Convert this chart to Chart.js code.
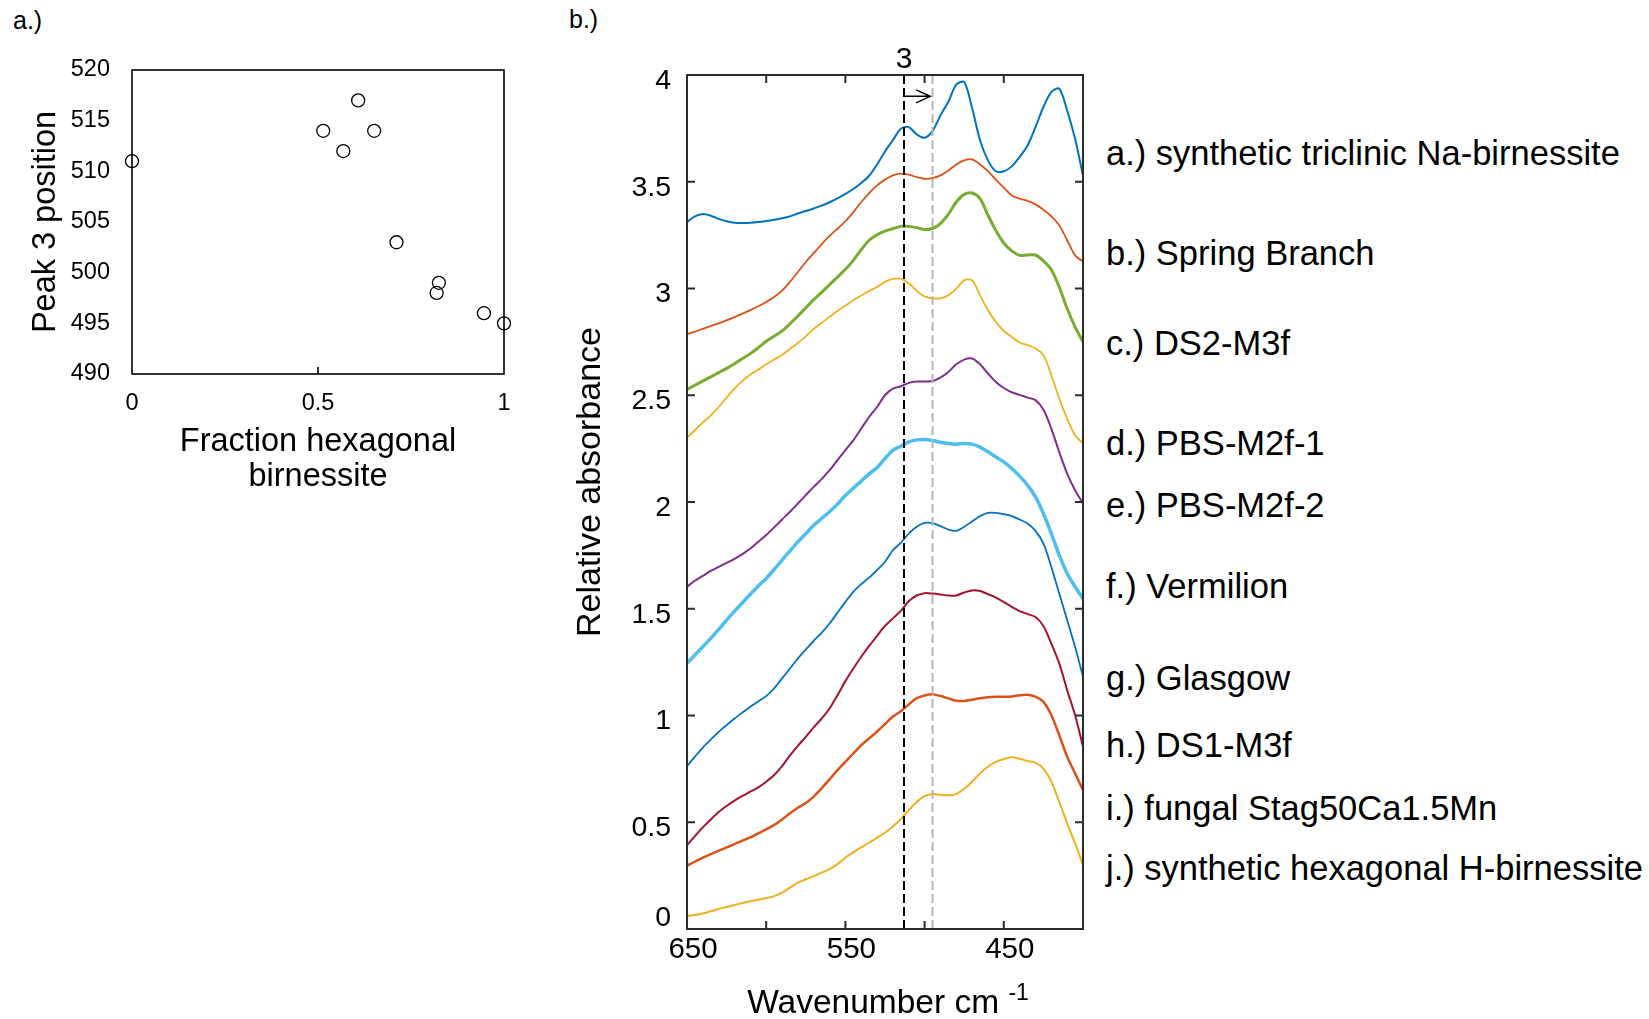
<!DOCTYPE html>
<html>
<head>
<meta charset="utf-8">
<script src="https://cdn.jsdelivr.net/npm/chart.js@4.4.1/dist/chart.umd.min.js"></script>
<style>
html, body { margin:0; padding:0; background:#fff; width:1649px; height:1019px; overflow:hidden; }
body { position:relative; font-family:"Liberation Sans", Arial, sans-serif; color:#000; }
canvas { position:absolute; }
#chartA { left:0; top:0; }
#chartB { left:540px; top:0; }
.panel { position:absolute; font-size:25px; line-height:25px; }
.lbl { position:absolute; left:1106px; font-size:34.5px; line-height:34.5px; white-space:nowrap; }
</style>
</head>
<body>
<div class="panel" style="left:13px; top:8px">a.)</div>
<div class="panel" style="left:569px; top:7px">b.)</div>
<canvas id="chartA" width="560" height="500"></canvas>
<canvas id="chartB" width="560" height="1019"></canvas>
<div id="labels"></div>
<script>
// panel a: peak 3 position vs fraction of hexagonal birnessite
var fractionHex = [0, 0.514, 0.568, 0.608, 0.651, 0.711, 0.825, 0.819, 0.946, 1.0];
var peak3Pos = [511, 514, 512, 517, 514, 503, 499, 498, 496, 495];

// panel b: FTIR spectra, offset for clarity
var wavenumber = [650,645,640,635,630,625,620,615,610,605,600,595,590,585,580,575,570,565,560,555,
  550,545,540,535,530,525,520,515,510,505,500,495,490,485,480,475,470,465,460,455,
  450,445,440,435,430,425,420,415,410,405,400];

var triclinicNa = [3.311,3.338,3.349,3.341,3.326,3.315,3.308,3.307,3.308,3.311,3.316,3.322,3.329,3.338,3.351,3.363,3.375,3.388,3.404,3.422,
  3.443,3.466,3.494,3.528,3.581,3.642,3.695,3.748,3.756,3.722,3.706,3.737,3.811,3.875,3.955,3.967,3.845,3.694,3.600,3.549,
  3.549,3.572,3.616,3.670,3.756,3.850,3.920,3.936,3.834,3.701,3.529];
var springBranch = [2.786,2.798,2.811,2.824,2.837,2.851,2.866,2.882,2.899,2.917,2.937,2.960,2.990,3.031,3.077,3.124,3.166,3.207,3.246,3.280,
  3.315,3.358,3.405,3.447,3.483,3.510,3.530,3.538,3.533,3.522,3.514,3.517,3.530,3.553,3.581,3.600,3.605,3.581,3.550,3.510,
  3.472,3.436,3.421,3.410,3.394,3.369,3.338,3.296,3.226,3.155,3.127];
var ds2M3f = [2.527,2.547,2.567,2.586,2.606,2.626,2.648,2.672,2.695,2.723,2.753,2.776,2.801,2.835,2.871,2.910,2.948,2.982,3.018,3.054,
  3.090,3.132,3.182,3.226,3.252,3.269,3.280,3.291,3.291,3.285,3.276,3.281,3.304,3.348,3.405,3.441,3.447,3.421,3.343,3.272,
  3.213,3.176,3.155,3.157,3.157,3.129,3.088,3.007,2.906,2.820,2.750];
var pbsM2f1 = [2.302,2.336,2.372,2.406,2.445,2.489,2.531,2.567,2.597,2.620,2.645,2.667,2.689,2.717,2.745,2.776,2.811,2.839,2.867,2.895,
  2.920,2.945,2.967,2.988,3.007,3.031,3.045,3.045,3.023,2.989,2.963,2.954,2.954,2.968,2.999,3.038,3.038,2.968,2.898,2.843,
  2.801,2.773,2.747,2.735,2.719,2.688,2.595,2.484,2.391,2.313,2.274];
var pbsM2f2 = [1.603,1.631,1.654,1.677,1.696,1.715,1.734,1.756,1.782,1.814,1.845,1.881,1.918,1.954,1.993,2.032,2.071,2.107,2.149,2.196,
  2.243,2.289,2.344,2.399,2.445,2.500,2.531,2.542,2.558,2.564,2.564,2.567,2.583,2.609,2.645,2.667,2.672,2.645,2.602,2.562,
  2.534,2.514,2.502,2.489,2.477,2.433,2.344,2.234,2.133,2.055,1.993];
var vermilion = [1.244,1.283,1.322,1.361,1.403,1.447,1.489,1.528,1.568,1.607,1.642,1.684,1.728,1.771,1.813,1.852,1.891,1.923,1.954,1.990,
  2.030,2.065,2.098,2.132,2.161,2.203,2.243,2.261,2.282,2.291,2.293,2.288,2.280,2.274,2.271,2.274,2.271,2.257,2.235,2.211,
  2.188,2.157,2.121,2.079,2.024,1.946,1.852,1.751,1.665,1.603,1.548];
var glasgow = [0.763,0.807,0.850,0.887,0.923,0.955,0.986,1.014,1.041,1.066,1.091,1.127,1.174,1.220,1.267,1.309,1.350,1.387,1.431,1.481,
  1.532,1.579,1.615,1.646,1.681,1.720,1.774,1.809,1.852,1.884,1.902,1.901,1.887,1.871,1.865,1.884,1.909,1.934,1.949,1.949,
  1.943,1.934,1.918,1.899,1.865,1.806,1.696,1.571,1.447,1.322,1.181];
var ds1M3f = [0.393,0.435,0.476,0.513,0.548,0.576,0.601,0.623,0.643,0.663,0.690,0.721,0.763,0.813,0.858,0.900,0.944,0.986,1.033,1.095,
  1.161,1.220,1.275,1.326,1.373,1.420,1.455,1.490,1.535,1.562,1.573,1.571,1.567,1.562,1.562,1.576,1.586,1.583,1.568,1.552,
  1.531,1.509,1.489,1.475,1.461,1.419,1.337,1.244,1.119,1.002,0.854];
var fungalStag = [0.297,0.315,0.334,0.351,0.367,0.382,0.398,0.414,0.429,0.448,0.467,0.487,0.513,0.542,0.568,0.590,0.620,0.659,0.701,0.744,
  0.783,0.822,0.861,0.893,0.925,0.960,0.995,1.020,1.052,1.081,1.094,1.099,1.091,1.080,1.069,1.068,1.074,1.081,1.086,1.088,
  1.088,1.089,1.095,1.097,1.088,1.064,1.002,0.908,0.807,0.729,0.651];
var hexagonalH = [0.061,0.066,0.073,0.083,0.094,0.103,0.112,0.122,0.130,0.137,0.145,0.154,0.170,0.194,0.217,0.233,0.248,0.264,0.281,0.304,
  0.334,0.359,0.382,0.404,0.428,0.451,0.480,0.515,0.557,0.595,0.623,0.632,0.629,0.626,0.632,0.657,0.690,0.729,0.760,0.783,
  0.796,0.805,0.797,0.787,0.779,0.751,0.690,0.596,0.495,0.401,0.300];

var sampleNames = ['a.) synthetic triclinic Na-birnessite', 'b.) Spring Branch', 'c.) DS2-M3f', 'd.) PBS-M2f-1',
  'e.) PBS-M2f-2', 'f.) Vermilion', 'g.) Glasgow', 'h.) DS1-M3f', 'i.) fungal Stag50Ca1.5Mn',
  'j.) synthetic hexagonal H-birnessite'];
var spectra = [triclinicNa, springBranch, ds2M3f, pbsM2f1, pbsM2f2, vermilion, glasgow, ds1M3f, fungalStag, hexagonalH];

// peak 3 positions marked in panel b
var peakTriclinic = 513;
var peakHexagonal = 495;
var arrowTip = 496.5;
var arrowLevel = 3.9;

// styling (kept apart from the values)
var lineColors = ['#0072BD', '#D95319', '#77AC30', '#EDB120', '#7E2F8E', '#4DBEEE', '#0072BD', '#A2142F', '#D95319', '#EDB120'];
var lineWidths = [2, 1.8, 3, 1.8, 2, 3.5, 1.8, 2, 2.5, 2];
var labelTop = [136, 236, 326, 426, 488, 569, 661, 728, 791, 851];

var FONT = '"Liberation Sans", Arial, sans-serif';
Chart.defaults.font.family = FONT;
Chart.defaults.color = '#000';

// box around the plot area plus inward tick marks
var frame = {
  id: 'frame',
  afterDraw: function(chart, args, o) {
    var ctx = chart.ctx, a = chart.chartArea, x = chart.scales.x, y = chart.scales.y;
    ctx.save();
    ctx.strokeStyle = o.color;
    ctx.lineWidth = o.width;
    ctx.beginPath();
    (o.xTicks || []).forEach(function(v) {
      var p = x.getPixelForValue(v);
      ctx.moveTo(p, a.bottom); ctx.lineTo(p, a.bottom - o.len);
      if (o.mirror) { ctx.moveTo(p, a.top); ctx.lineTo(p, a.top + o.len); }
    });
    (o.yTicks || []).forEach(function(v) {
      var p = y.getPixelForValue(v);
      ctx.moveTo(a.left, p); ctx.lineTo(a.left + o.len, p);
      if (o.mirror) { ctx.moveTo(a.right, p); ctx.lineTo(a.right - o.len, p); }
    });
    ctx.stroke();
    ctx.strokeRect(a.left, a.top, a.right - a.left, a.bottom - a.top);
    ctx.restore();
  }
};

new Chart(document.getElementById('chartA').getContext('2d'), {
  type: 'scatter',
  data: {
    datasets: [{
      data: fractionHex.map(function(f, i) { return {x: f, y: peak3Pos[i]}; }),
      pointStyle: 'circle',
      pointRadius: 6.5,
      borderColor: '#000',
      backgroundColor: 'rgba(0,0,0,0)',
      borderWidth: 1.3,
      clip: false
    }]
  },
  options: {
    responsive: false,
    animation: false,
    layout: { padding: { top: 70, right: 56, left: 0, bottom: 5 } },
    plugins: {
      legend: { display: false },
      tooltip: { enabled: false },
      frame: { color: '#000', width: 1.6, len: 7, xTicks: [0.5], yTicks: [], mirror: false }
    },
    scales: {
      x: {
        type: 'linear', min: 0, max: 1,
        ticks: { stepSize: 0.5, padding: 15, font: { size: 23.5 }, maxRotation: 0, autoSkip: false,
          callback: function(v) { return String(v); } },
        grid: { display: false, drawTicks: false },
        border: { display: false },
        title: { display: true, text: ['Fraction hexagonal', 'birnessite'], font: { size: 32.5, lineHeight: 1.077 }, padding: { top: 0, bottom: 0 } },
        afterFit: function(s) { s.height = 121; }
      },
      y: {
        min: 490, max: 520,
        ticks: { stepSize: 5, padding: 22, font: { size: 23.5 } },
        grid: { display: false, drawTicks: false },
        border: { display: false },
        title: { display: true, text: 'Peak 3 position', font: { size: 32.5 }, padding: { top: 26.5, bottom: 0 } },
        afterFit: function(s) { s.width = 132; }
      }
    }
  },
  plugins: [frame]
});

// arrow, peak number, zero label and axis titles of panel b
var annot = {
  id: 'annot',
  afterDatasetsDraw: function(chart) {
    var ctx = chart.ctx, a = chart.chartArea, x = chart.scales.x, y = chart.scales.y;
    var x0 = x.getPixelForValue(peakTriclinic), x1 = x.getPixelForValue(arrowTip), ya = y.getPixelForValue(arrowLevel);
    ctx.save();
    ctx.strokeStyle = '#000';
    ctx.lineWidth = 1.5;
    ctx.beginPath();
    ctx.moveTo(x0, ya); ctx.lineTo(x1, ya);
    ctx.moveTo(x1 - 14, ya - 6.5); ctx.lineTo(x1, ya); ctx.lineTo(x1 - 14, ya + 6.5);
    ctx.stroke();
    ctx.fillStyle = '#000';
    ctx.textBaseline = 'middle';
    ctx.textAlign = 'center';
    ctx.font = '30px ' + FONT;
    ctx.fillText('3', x0, a.top - 15);
    ctx.textAlign = 'right';
    ctx.font = '28.5px ' + FONT;
    ctx.fillText('0', a.left - 16, y.getPixelForValue(0) - 11);
    // y title
    ctx.save();
    ctx.translate(a.left - 96, a.top + 407);
    ctx.rotate(-Math.PI / 2);
    ctx.textAlign = 'center';
    ctx.font = '34px ' + FONT;
    ctx.fillText('Relative absorbance', 0, 0);
    ctx.restore();
    // x title with superscript
    ctx.textAlign = 'left';
    ctx.font = '33.5px ' + FONT;
    var main = 'Wavenumber cm ';
    var wMain = ctx.measureText(main).width;
    ctx.font = '23px ' + FONT;
    var wSup = ctx.measureText('-1').width;
    var cx = (a.left + a.right) / 2 + 3;
    var tx = cx - (wMain + wSup) / 2, ty = a.bottom + 75;
    ctx.font = '33.5px ' + FONT;
    ctx.fillText(main, tx, ty);
    ctx.font = '23px ' + FONT;
    ctx.fillText('-1', tx + wMain, ty - 10);
    ctx.restore();
  }
};

var datasetsB = [
  { data: [{x: peakTriclinic, y: 0}, {x: peakTriclinic, y: 4}], borderColor: '#000', borderWidth: 2, borderDash: [9, 4], tension: 0, pointRadius: 0 },
  { data: [{x: peakHexagonal, y: 0}, {x: peakHexagonal, y: 4}], borderColor: '#b5b5b5', borderWidth: 2, borderDash: [9, 4], tension: 0, pointRadius: 0 }
];
spectra.forEach(function(vals, k) {
  datasetsB.push({
    data: wavenumber.map(function(w, i) { return {x: w, y: vals[i]}; }),
    borderColor: lineColors[k],
    borderWidth: lineWidths[k],
    pointRadius: 0,
    tension: 0.3,
    fill: false
  });
});

new Chart(document.getElementById('chartB').getContext('2d'), {
  type: 'line',
  data: { datasets: datasetsB },
  options: {
    responsive: false,
    animation: false,
    layout: { padding: { top: 75, right: 17, left: 0, bottom: 0 } },
    plugins: {
      legend: { display: false },
      tooltip: { enabled: false },
      frame: { color: '#2b2b2b', width: 2, len: 8, xTicks: [600, 550, 500, 450], yTicks: [0.5, 1, 1.5, 2, 2.5, 3, 3.5], mirror: true }
    },
    scales: {
      x: {
        type: 'linear', min: 400, max: 650, reverse: true,
        ticks: {
          stepSize: 50, padding: 3, labelOffset: 6, font: { size: 29.5 }, maxRotation: 0, autoSkip: false,
          callback: function(v) { return (v === 650 || v === 550 || v === 450) ? String(v) : ''; }
        },
        grid: { display: false, drawTicks: false },
        border: { display: false },
        afterFit: function(s) { s.height = 90; }
      },
      y: {
        min: 0, max: 4,
        ticks: {
          stepSize: 0.5, padding: 16, labelOffset: 6, font: { size: 28.5 },
          callback: function(v) { return v === 0 ? '' : String(v); }
        },
        grid: { display: false, drawTicks: false },
        border: { display: false },
        afterFit: function(s) { s.width = 147; }
      }
    }
  },
  plugins: [frame, annot]
});

var holder = document.getElementById('labels');
sampleNames.forEach(function(name, i) {
  var d = document.createElement('div');
  d.className = 'lbl';
  d.style.top = labelTop[i] + 'px';
  d.textContent = name;
  holder.appendChild(d);
});
</script>
</body>
</html>
